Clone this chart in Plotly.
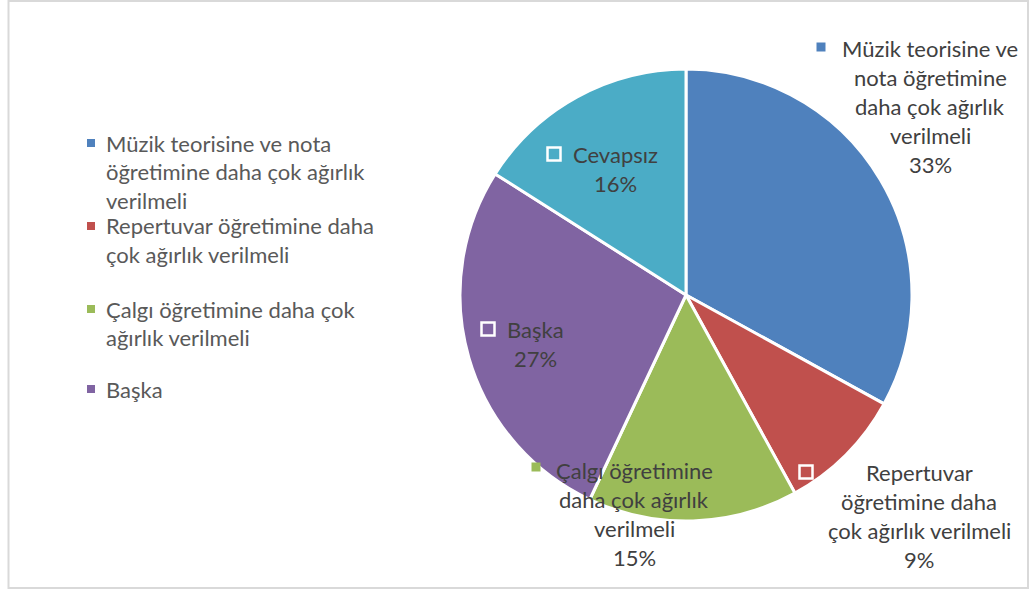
import plotly.graph_objects as go

# Survey answers and their shares (%)
categories = [
    "Müzik teorisine ve nota öğretimine daha çok ağırlık verilmeli",
    "Repertuvar öğretimine daha çok ağırlık verilmeli",
    "Çalgı öğretimine daha çok ağırlık verilmeli",
    "Başka",
    "Cevapsız",
]
values = [33, 9, 15, 27, 16]
colors = ["#4F81BD", "#C0504D", "#9BBB59", "#8064A2", "#4BACC6"]

# Wrapped text for the side legend (first four answers are listed)
legend_lines = [
    ["Müzik teorisine ve nota", "öğretimine daha çok ağırlık", "verilmeli"],
    ["Repertuvar öğretimine daha", "çok ağırlık verilmeli"],
    ["Çalgı öğretimine daha çok", "ağırlık verilmeli"],
    ["Başka"],
]
# Wrapped text for the slice labels
slice_label_lines = [
    ["Müzik teorisine ve", "nota öğretimine", "daha çok ağırlık", "verilmeli"],
    ["Repertuvar", "öğretimine daha", "çok ağırlık verilmeli"],
    ["Çalgı öğretimine", "daha çok ağırlık", "verilmeli"],
    ["Başka"],
    ["Cevapsız"],
]

W, H = 1029, 590
FONT = "Lato"
FS = 22
LEGEND_COLOR = "#595959"
LABEL_COLOR = "#404040"


def px(x):
    return x / W


def py(y):
    return 1 - y / H


fig = go.Figure()

cx, cy, r = 686, 295, 226
fig.add_trace(go.Pie(
    labels=categories,
    values=values,
    sort=False,
    direction="clockwise",
    rotation=0,
    marker=dict(colors=colors, line=dict(color="white", width=3)),
    textinfo="none",
    hoverinfo="label+percent",
    showlegend=False,
    domain=dict(x=[px(cx - r), px(cx + r)], y=[py(cy + r), py(cy - r)]),
))

annotations = []
shapes = []

# chart frame
shapes.append(dict(type="rect", xref="paper", yref="paper",
                   x0=px(8.5), x1=px(1028), y0=py(588), y1=py(1),
                   line=dict(color="#D9D9D9", width=2), fillcolor="rgba(0,0,0,0)"))


def key_square(x, y, color, size, border):
    shapes.append(dict(type="rect", xref="paper", yref="paper",
                       x0=px(x - size / 2), x1=px(x + size / 2),
                       y0=py(y + size / 2), y1=py(y - size / 2),
                       fillcolor=color,
                       line=dict(color="white", width=border)))


# side legend: square key at x=91, text starts at x=104
legend_tops = [143, 226, 309, 389]
line_gap = 28.5
for i, lines in enumerate(legend_lines):
    key_square(91, legend_tops[i], colors[i], 8, 0)
    for j, t in enumerate(lines):
        annotations.append(dict(
            x=px(104), y=py(legend_tops[i] + j * line_gap), xref="paper", yref="paper",
            text=t, showarrow=False, xanchor="left", yanchor="middle",
            font=dict(family=FONT, size=FS, color=LEGEND_COLOR)))

# slice labels: (text centre x, first line y, key x, key y, key border)
label_layout = [
    (930, 48, 821, 47, 0),
    (919, 472, 806, 472, 2.5),
    (634, 470, 536, 467, 0),
    (535, 329, 488, 329, 2.5),
    (615, 155, 554, 154, 2.5),
]
total = sum(values)
for i, (tx, ty, kx, ky, kb) in enumerate(label_layout):
    key_square(kx, ky, colors[i], 13 if kb else 9, kb)
    lines = slice_label_lines[i] + [f"{round(values[i] / total * 100)}%"]
    for j, t in enumerate(lines):
        annotations.append(dict(
            x=px(tx), y=py(ty + j * 29), xref="paper", yref="paper",
            text=t, showarrow=False, xanchor="center", yanchor="middle",
            font=dict(family=FONT, size=FS, color=LABEL_COLOR)))

fig.update_layout(
    width=W, height=H,
    margin=dict(l=0, r=0, t=0, b=0),
    paper_bgcolor="white",
    plot_bgcolor="white",
    annotations=annotations,
    shapes=shapes,
    showlegend=False,
)

fig.write_html("out.html")
